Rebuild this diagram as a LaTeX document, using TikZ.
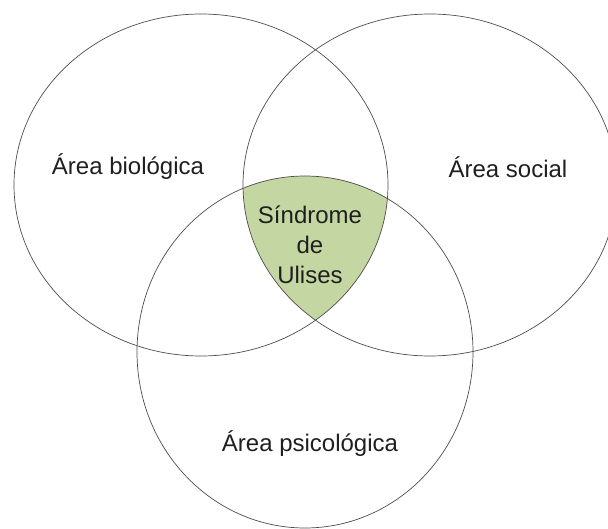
\documentclass[tikz,border=0pt]{standalone}
\usepackage{fontspec}
\setmainfont{Liberation Sans}
\usepackage{xcolor}
\usepackage{tikz}
\usetikzlibrary{positioning}
\definecolor{vennback}{RGB}{196,215,163}
\tikzset{
    venn/.style={draw=black!70, line width=0.7pt},
    vennfill/.style={fill=vennback},
    arealabel/.style={
        font=\fontsize{24}{30}\selectfont, align=center,
        text=black!88, inner sep=0pt,
    },
}
\newcommand{\biopath}{(201,343) ellipse [x radius=187, y radius=171]}
\newcommand{\socpath}{(430,343) ellipse [x radius=187, y radius=171]}
\newcommand{\psipath}{(305,176) ellipse [x radius=168, y radius=176]}

\begin{document}
\begin{tikzpicture}[x=1pt, y=1pt]

    \useasboundingbox (0,0) rectangle (608,528);

    % common part of the three areas
    \begin{scope}
        \clip \biopath;
        \clip \socpath;
        \fill[vennfill] \psipath;
    \end{scope}

    \draw[venn] \biopath;
    \draw[venn] \socpath;
    \draw[venn] \psipath;

    \node[arealabel] (bio) at (128,361) {Área biológica};
    \node[arealabel] (social) at (508,361) {Área social};
    \node[arealabel] (psico) at (310,84) {Área psicológica};
    \node[arealabel] (ulises) at (310,283) {Síndrome\\de\\Ulises};

\end{tikzpicture}
\end{document}
